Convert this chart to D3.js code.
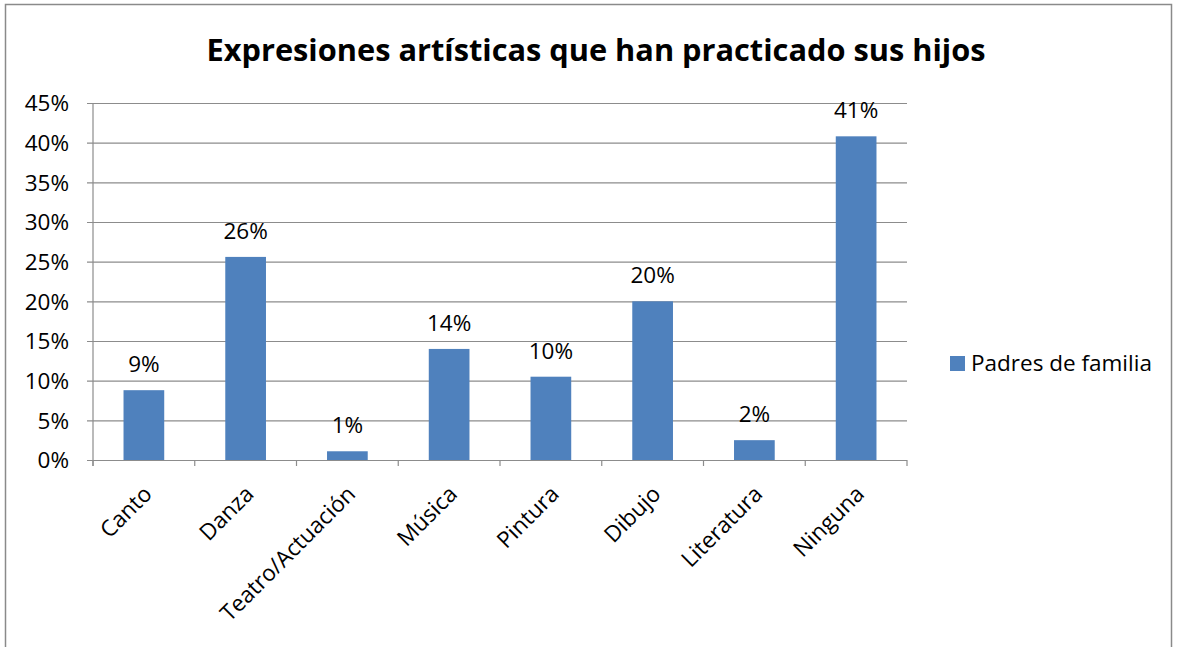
<!DOCTYPE html>
<html>
<head>
<meta charset="utf-8">
<style>
  body { margin: 0; background: #fff; }
  svg text { font-family: "Open Sans", "Noto Sans", sans-serif; fill: #000; }
  .grid line { stroke: #8c8c8c; stroke-width: 1.2px; }
</style>
</head>
<body>
<svg width="1177" height="647"></svg>
<script src="https://cdn.jsdelivr.net/npm/d3@7"></script>
<script>
var categories = ['Canto', 'Danza', 'Teatro/Actuación', 'Música', 'Pintura', 'Dibujo', 'Literatura', 'Ninguna'];
var values = [0.088, 0.256, 0.011, 0.14, 0.105, 0.20, 0.025, 0.408];
var labels = ['9%', '26%', '1%', '14%', '10%', '20%', '2%', '41%'];
var yTicks = [0, 0.05, 0.10, 0.15, 0.20, 0.25, 0.30, 0.35, 0.40, 0.45];
var seriesName = 'Padres de familia';

var svg = d3.select('svg');

// outer chart border
svg.append('rect')
   .attr('x', 5.5).attr('y', 4.5)
   .attr('width', 1166).attr('height', 660)
   .attr('fill', 'none').attr('stroke', '#8a8a8a').attr('stroke-width', 1.5);

var pLeft = 93, pRight = 907, pTop = 103, pBottom = 460;

var x = d3.scaleBand().domain(categories).range([pLeft, pRight]).paddingInner(0.6).paddingOuter(0.3);
var y = d3.scaleLinear().domain([0, 0.45]).range([pBottom, pTop]);

// title
svg.append('text')
   .attr('x', 596).attr('y', 61)
   .attr('text-anchor', 'middle')
   .style('font-weight', 'bold').style('font-size', '31px')
   .attr('textLength', 779).attr('lengthAdjust', 'spacingAndGlyphs')
   .text('Expresiones artísticas que han practicado sus hijos');

// gridlines + y axis
var yAxis = d3.axisLeft(y).tickValues(yTicks).tickSize(-(pRight - pLeft))
              .tickFormat(d3.format('.0%')).tickPadding(10);
var gy = svg.append('g').attr('class', 'grid')
            .attr('transform', 'translate(' + pLeft + ',0)')
            .call(yAxis);
gy.select('.domain').remove();
gy.selectAll('.tick line').attr('x1', -6);
gy.selectAll('.tick text').style('font-size', '22.5px').attr('x', -24).attr('dy', '0.35em');
svg.append('line')
   .attr('x1', pLeft).attr('x2', pLeft).attr('y1', pTop).attr('y2', pBottom + 6)
   .attr('stroke', '#8c8c8c').attr('stroke-width', 1.2);

// x axis with ticks at band edges
var edges = d3.range(categories.length + 1).map(function(i) { return pLeft + i * (pRight - pLeft) / categories.length; });
svg.append('g').selectAll('line').data(edges).enter().append('line')
   .attr('x1', function(d) { return d; }).attr('x2', function(d) { return d; })
   .attr('y1', pBottom).attr('y2', pBottom + 6)
   .attr('stroke', '#8c8c8c').attr('stroke-width', 1.2);

// bars
svg.append('g').selectAll('rect').data(values).enter().append('rect')
   .attr('x', function(d, i) { return x(categories[i]); })
   .attr('width', x.bandwidth())
   .attr('y', function(d) { return y(d); })
   .attr('height', function(d) { return pBottom - y(d); })
   .attr('fill', '#4f81bd');

// data labels
svg.append('g').selectAll('text').data(values).enter().append('text')
   .attr('x', function(d, i) { return x(categories[i]) + x.bandwidth() / 2; })
   .attr('y', function(d) { return y(d) - 18; })
   .attr('text-anchor', 'middle')
   .style('font-size', '22.5px')
   .text(function(d, i) { return labels[i]; });

// category labels rotated
svg.append('g').selectAll('text').data(categories).enter().append('text')
   .attr('transform', function(d) {
       var cx = x(d) + x.bandwidth() / 2 - 2;
       return 'translate(' + cx + ',' + (pBottom + 24) + ') rotate(-45)';
   })
   .attr('text-anchor', 'end')
   .attr('dy', '0.72em')
   .style('font-size', '22.5px')
   .text(function(d) { return d; });

// legend
svg.append('rect').attr('x', 950).attr('y', 356).attr('width', 15).attr('height', 15).attr('fill', '#4f81bd');
svg.append('text').attr('x', 971).attr('y', 371).style('font-size', '22.5px').text(seriesName);
</script>
</body>
</html>
